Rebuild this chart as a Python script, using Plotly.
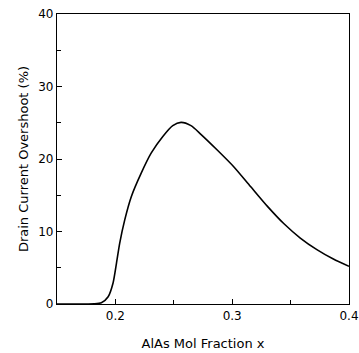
import plotly.graph_objects as go

x_frac = [0.15, 0.175, 0.182, 0.188, 0.1938, 0.198, 0.2009, 0.2037, 0.208, 0.2136, 0.2221,
          0.2306, 0.2406, 0.2491, 0.2562, 0.2647, 0.2732, 0.2874, 0.3015, 0.3157, 0.33,
          0.3441, 0.3583, 0.3725, 0.3866, 0.4]
overshoot = [0, 0, 0.02, 0.18, 1.0, 2.9, 5.6, 8.4, 11.6, 14.8, 18.05,
             20.8, 23.1, 24.6, 25.05, 24.6, 23.4, 21.2, 18.9, 16.2, 13.5,
             11.1, 9.1, 7.5, 6.2, 5.2]
x_ticks = [0.2, 0.3, 0.4]
y_ticks = [0, 10, 20, 30, 40]

fig = go.Figure()
fig.add_trace(go.Scatter(x=x_frac, y=overshoot, mode="lines",
                         line=dict(color="black", width=1.6, shape="spline", smoothing=0.7),
                         hoverinfo="skip", showlegend=False))

font = dict(family="DejaVu Sans", size=12, color="black")
tfont = dict(family="DejaVu Sans", size=13, color="black")
fig.update_layout(
    width=359, height=353,
    margin=dict(l=57, r=10, t=14, b=49, autoexpand=False),
    paper_bgcolor="white", plot_bgcolor="white",
    font=font,
    xaxis=dict(range=[0.15, 0.4], tickvals=x_ticks, ticktext=["0.2", "0.3", "0.4"],
               automargin=False,
               ticks="inside", ticklen=5, tickcolor="black", showgrid=False, zeroline=False,
               showline=True, linecolor="black", linewidth=1.3, mirror=True,
               minor=dict(tickvals=[0.25, 0.35], ticks="inside", ticklen=4, tickcolor="black"),
               title=dict(text="AlAs Mol Fraction x", standoff=17, font=tfont)),
    yaxis=dict(range=[0, 40], tickvals=y_ticks, automargin=False,
               ticks="inside", ticklen=5, tickcolor="black", showgrid=False, zeroline=False,
               showline=True, linecolor="black", linewidth=1.3, mirror=True,
               minor=dict(tickvals=[5, 15, 25, 35], ticks="inside", ticklen=4, tickcolor="black"),
               title=dict(text="Drain Current Overshoot (%)", standoff=6, font=tfont)),
)
fig.write_html("out.html", config={"displayModeBar": False},
               post_script="document.body.style.margin='0';")
